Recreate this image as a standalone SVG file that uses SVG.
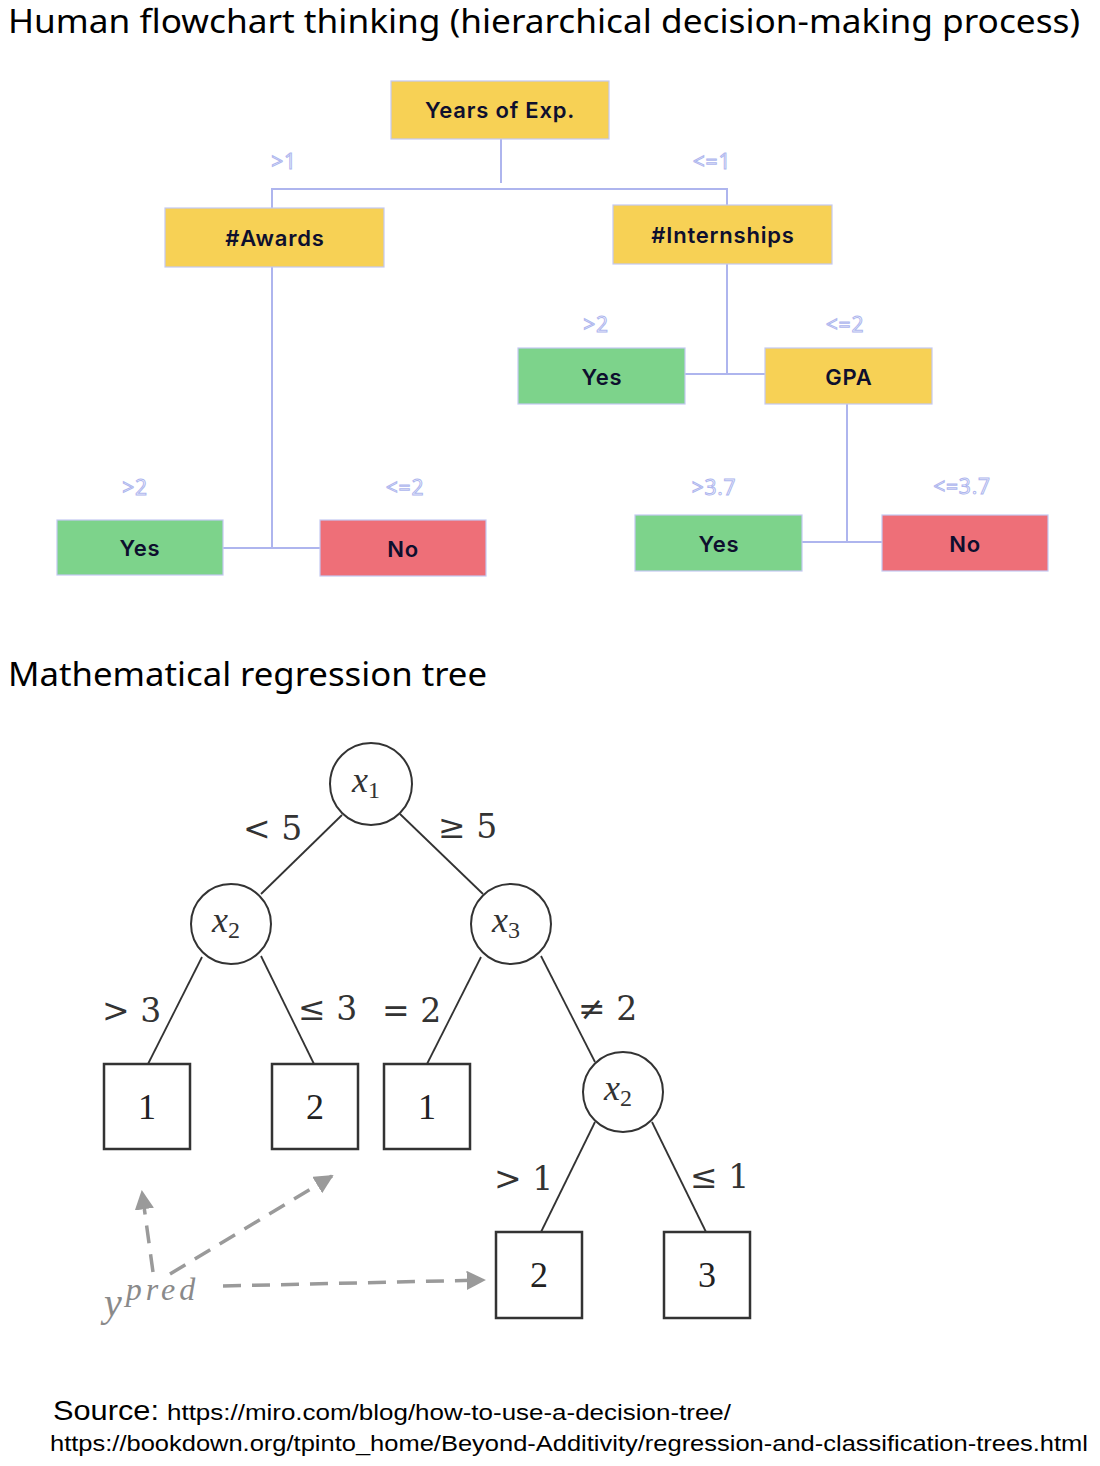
<svg xmlns="http://www.w3.org/2000/svg" width="1100" height="1466" viewBox="0 0 1100 1466">
<defs>
<style>
.title{font-family:"Noto Sans","Liberation Sans",sans-serif;font-size:32px;fill:#000}
.box{stroke:#C3C8F2;stroke-width:1.2}
.yel{fill:#F7D155}
.grn{fill:#7DD38B}
.red{fill:#EE6F78}
.bt{font-family:Inter,"Open Sans",sans-serif;font-weight:600;font-size:22px;letter-spacing:0.8px;fill:#0E0F2E;text-anchor:middle}
.el{font-family:"Open Sans","Liberation Sans",sans-serif;font-size:21px;letter-spacing:0.8px;fill:#fff;stroke:#AEB6EE;stroke-width:1;text-anchor:middle}
.con{fill:none;stroke:#AEB5EE;stroke-width:2}
.mc{fill:#fff;stroke:#333;stroke-width:2}
.mb{fill:#fff;stroke:#333;stroke-width:2.5}
.ml{fill:none;stroke:#333;stroke-width:1.8}
.mt{font-family:"DejaVu Serif","Liberation Serif",serif;font-size:33px;fill:#333}
.mn{font-family:"Liberation Serif","DejaVu Serif",serif;font-size:36px;fill:#222;text-anchor:middle}
.mx{font-family:"Liberation Serif","DejaVu Serif",serif;font-style:italic;font-size:36px;fill:#333}
.yp{font-family:"Liberation Serif","DejaVu Serif",serif;font-style:italic;fill:#8A8A8A}
.dash{fill:none;stroke:#9A9A9A;stroke-width:3.5;stroke-dasharray:18 11}
.src{font-family:"Liberation Sans",sans-serif;fill:#000}
</style>
<marker id="ah" viewBox="0 0 10 10" refX="9" refY="5" markerWidth="5.5" markerHeight="5.5" orient="auto" markerUnits="strokeWidth">
<path d="M0,0 L10,5 L0,10 z" fill="#9A9A9A"/>
</marker>
</defs>
<rect width="1100" height="1466" fill="#fff"/>

<text class="title" x="8" y="33" textLength="1072" lengthAdjust="spacingAndGlyphs">Human flowchart thinking (hierarchical decision-making process)</text>
<text class="title" x="8" y="686" textLength="479" lengthAdjust="spacingAndGlyphs">Mathematical regression tree</text>

<g id="connectors-top">
<path class="con" d="M501,139 V183"/>
<path class="con" d="M272,208 V189 H727 V205"/>
<path class="con" d="M272,267 V548 M223,548 H320"/>
<path class="con" d="M727,264 V374 M685,374 H765"/>
<path class="con" d="M847,404 V542 M802,542 H882"/>
<text class="el" x="284" y="169">&gt;1</text>
<text class="el" x="712" y="169">&lt;=1</text>
<text class="el" x="596" y="332">&gt;2</text>
<text class="el" x="845" y="332">&lt;=2</text>
<text class="el" x="135" y="495">&gt;2</text>
<text class="el" x="405" y="495">&lt;=2</text>
<text class="el" x="714" y="495">&gt;3.7</text>
<text class="el" x="962" y="494">&lt;=3.7</text>
</g>

<g id="years"><rect class="box yel" x="391" y="81" width="218" height="58"/><text class="bt" x="500" y="118">Years of Exp.</text></g>
<g id="awards"><rect class="box yel" x="165" y="208" width="219" height="59"/><text class="bt" x="275" y="246">#Awards</text></g>
<g id="internships"><rect class="box yel" x="613" y="205" width="219" height="59"/><text class="bt" x="723" y="243">#Internships</text></g>
<g id="yes-int"><rect class="box grn" x="518" y="348" width="167" height="56"/><text class="bt" x="602" y="385">Yes</text></g>
<g id="gpa"><rect class="box yel" x="765" y="348" width="167" height="56"/><text class="bt" x="849" y="385">GPA</text></g>
<g id="yes-awards"><rect class="box grn" x="57" y="520" width="166" height="55"/><text class="bt" x="140" y="556">Yes</text></g>
<g id="no-awards"><rect class="box red" x="320" y="520" width="166" height="56"/><text class="bt" x="403" y="557">No</text></g>
<g id="yes-gpa"><rect class="box grn" x="635" y="515" width="167" height="56"/><text class="bt" x="719" y="552">Yes</text></g>
<g id="no-gpa"><rect class="box red" x="882" y="515" width="166" height="56"/><text class="bt" x="965" y="552">No</text></g>

<g id="connectors-math">
<path class="ml" d="M342,815 L261,894"/>
<path class="ml" d="M400,814 L483,894"/>
<path class="ml" d="M202,957 L148,1064"/>
<path class="ml" d="M261,956 L314,1064"/>
<path class="ml" d="M481,957 L427,1064"/>
<path class="ml" d="M541,956 L595,1062"/>
<path class="ml" d="M595,1122 L541,1232"/>
<path class="ml" d="M652,1122 L706,1232"/>
<text class="mt" x="243" y="840">&lt; 5</text>
<text class="mt" x="438" y="838">≥ 5</text>
<text class="mt" x="102" y="1022">&gt; 3</text>
<text class="mt" x="298" y="1020">≤ 3</text>
<text class="mt" x="382" y="1022">= 2</text>
<text class="mt" x="578" y="1020">≠ 2</text>
<text class="mt" x="494" y="1190">&gt; 1</text>
<text class="mt" x="690" y="1188">≤ 1</text>
<path class="dash" d="M153,1272 L142,1192" marker-end="url(#ah)"/>
<path class="dash" d="M170,1274 L332,1176" marker-end="url(#ah)"/>
<path class="dash" d="M223,1286 L484,1280" marker-end="url(#ah)"/>
</g>

<g id="m-x1"><circle class="mc" cx="371" cy="784" r="41"/><text class="mx" x="352" y="792">x<tspan font-style="normal" font-size="24" dy="6">1</tspan></text></g>
<g id="m-x2a"><circle class="mc" cx="231" cy="924" r="40"/><text class="mx" x="212" y="932">x<tspan font-style="normal" font-size="24" dy="6">2</tspan></text></g>
<g id="m-x3"><circle class="mc" cx="511" cy="924" r="40"/><text class="mx" x="492" y="932">x<tspan font-style="normal" font-size="24" dy="6">3</tspan></text></g>
<g id="m-x2b"><circle class="mc" cx="623" cy="1092" r="40"/><text class="mx" x="604" y="1100">x<tspan font-style="normal" font-size="24" dy="6">2</tspan></text></g>
<g id="m-leaf1"><rect class="mb" x="104" y="1064" width="86" height="85"/><text class="mn" x="147" y="1119">1</text></g>
<g id="m-leaf2"><rect class="mb" x="272" y="1064" width="86" height="85"/><text class="mn" x="315" y="1119">2</text></g>
<g id="m-leaf3"><rect class="mb" x="384" y="1064" width="86" height="85"/><text class="mn" x="427" y="1119">1</text></g>
<g id="m-leaf4"><rect class="mb" x="496" y="1232" width="86" height="86"/><text class="mn" x="539" y="1287">2</text></g>
<g id="m-leaf5"><rect class="mb" x="664" y="1232" width="86" height="86"/><text class="mn" x="707" y="1287">3</text></g>
<g id="ypred"><text class="yp" x="104" y="1316" font-size="40">y<tspan font-size="32" dy="-16" dx="4" letter-spacing="4">pred</tspan></text></g>

<g id="source">
<text class="src" x="53" y="1420" font-size="28" textLength="106" lengthAdjust="spacingAndGlyphs">Source:</text>
<text class="src" x="167" y="1420" font-size="22" textLength="564" lengthAdjust="spacingAndGlyphs">https://miro.com/blog/how-to-use-a-decision-tree/</text>
<text class="src" x="50" y="1451" font-size="22" textLength="1038" lengthAdjust="spacingAndGlyphs">https://bookdown.org/tpinto_home/Beyond-Additivity/regression-and-classification-trees.html</text>
</g>
</svg>
